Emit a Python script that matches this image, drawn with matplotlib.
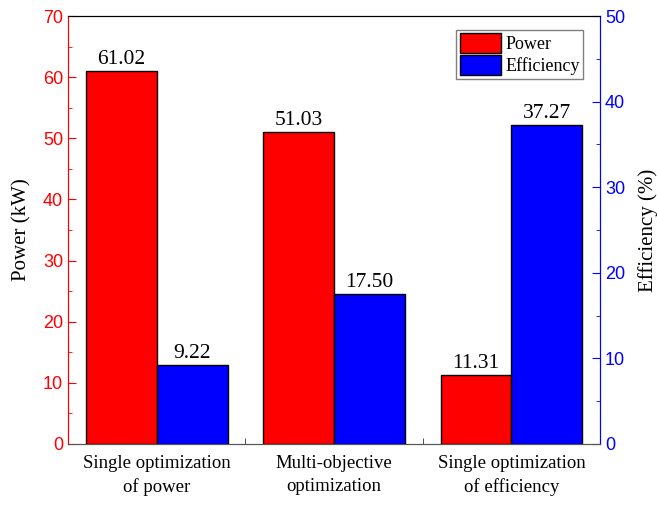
import numpy as np
import matplotlib
matplotlib.use("Agg")
import matplotlib.pyplot as plt
from matplotlib.ticker import MultipleLocator
from matplotlib.patches import Patch

categories = ["Single optimization\nof power", "Multi-objective\noptimization",
              "Single optimization\nof efficiency"]
power = [61.02, 51.03, 11.31]
efficiency = [9.22, 17.50, 37.27]

serif = ["Liberation Serif", "DejaVu Serif"]
sans = ["Liberation Sans", "DejaVu Sans"]

fig = plt.figure(figsize=(6.57, 5.08), dpi=100)
ax = fig.add_axes([0.1035, 0.126, 0.81, 0.8425])
ax2 = ax.twinx()

x = np.arange(len(categories))
w = 0.4

b1 = ax.bar(x - w / 2, power, w, color="#ff0000", edgecolor="black", linewidth=1)
b2 = ax2.bar(x + w / 2, efficiency, w, color="#0000ff", edgecolor="black", linewidth=1)

# value labels above bars
for rect, v in zip(b1, power):
    ax.annotate(f"{v:.2f}", (rect.get_x() + rect.get_width() / 2, v),
                xytext=(0, 1.5), textcoords="offset points", ha="center", va="bottom",
                fontsize=15.5, family=serif)
for rect, v in zip(b2, efficiency):
    ax2.annotate(f"{v:.2f}", (rect.get_x() + rect.get_width() / 2, v),
                 xytext=(0, 1.5), textcoords="offset points", ha="center", va="bottom",
                 fontsize=15.5, family=serif)

ax.set_xlim(-0.5, 2.5)
ax.set_ylim(0, 70)
ax2.set_ylim(0, 50)

ax.set_xticks(x)
ax.set_xticklabels(categories, fontsize=13.5, family=serif, linespacing=1.45)
ax.set_xticks([0.5, 1.5], minor=True)
ax.tick_params(axis="x", which="major", length=0, pad=8)
ax.tick_params(axis="x", which="minor", direction="in", length=4, color="#333333")

ax.yaxis.set_major_locator(MultipleLocator(10))
ax.yaxis.set_minor_locator(MultipleLocator(5))
ax2.yaxis.set_major_locator(MultipleLocator(10))
ax2.yaxis.set_minor_locator(MultipleLocator(5))

ax.tick_params(axis="y", which="major", direction="in", length=6, color="red",
               labelcolor="red", labelsize=13)
ax.tick_params(axis="y", which="minor", direction="in", length=3, color="red")
ax2.tick_params(axis="y", which="major", direction="in", length=6, color="blue",
                labelcolor="blue", labelsize=13)
ax2.tick_params(axis="y", which="minor", direction="in", length=3, color="blue")
for lab in ax.get_yticklabels() + ax2.get_yticklabels():
    lab.set_family(sans)

ax.set_ylabel("Power (kW)", fontsize=15, family=serif, labelpad=8)
ax2.set_ylabel("Efficiency (%)", fontsize=15, family=serif, labelpad=9)

for a in (ax, ax2):
    a.spines["left"].set_color("red")
    a.spines["right"].set_color("blue")
    a.spines["top"].set_color("black")
    a.spines["bottom"].set_color("#555555")

handles = [Patch(facecolor="#ff0000", edgecolor="black", label="Power"),
           Patch(facecolor="#0000ff", edgecolor="black", label="Efficiency")]
leg = ax2.legend(handles=handles, loc="upper right", bbox_to_anchor=(0.968, 0.968),
                 fancybox=False, edgecolor="gray", framealpha=1,
                 prop={"family": serif, "size": 13}, handlelength=2.25,
                 handleheight=1.3, borderpad=0.2, labelspacing=0.1,
                 handletextpad=0.25, borderaxespad=0)

fig.savefig("out.png", dpi=100)
